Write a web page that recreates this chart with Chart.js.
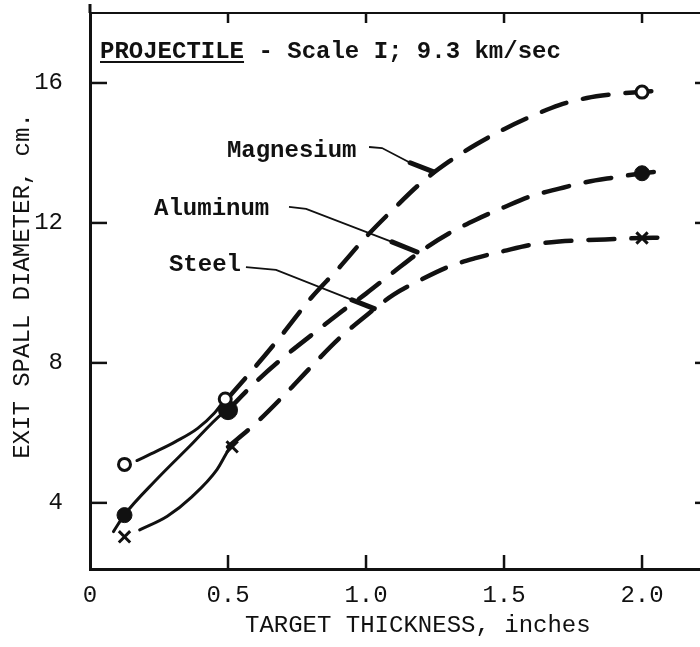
<!DOCTYPE html>
<html>
<head>
<meta charset="utf-8">
<script src="https://cdn.jsdelivr.net/npm/chart.js@4/dist/chart.umd.min.js"></script>
<style>
  html, body { margin: 0; padding: 0; background: #fff; }
  #chart { display: block; }
</style>
</head>
<body>
<canvas id="chart" width="700" height="647"></canvas>
<script>
// axis ticks
const xTicks = [0, 0.5, 1.0, 1.5, 2.0];
const xTickLabels = ['0', '0.5', '1.0', '1.5', '2.0'];
const yTicks = [4, 8, 12, 16];
const yTickLabels = ['4', '8', '12', '16'];

// measured points (target thickness, inches -> spall diameter, cm)
const magnesiumX = [0.125, 0.49, 2.0];
const magnesiumY = [5.1, 6.97, 15.74];
const aluminumX = [0.125, 0.5, 2.0];
const aluminumY = [3.65, 6.65, 13.42];
const steelX = [0.125, 0.515, 2.0];
const steelY = [3.03, 5.6, 11.57];

// solid curves at small thickness
const magnesiumSolidX = [0.17, 0.24, 0.31, 0.39, 0.45, 0.49];
const magnesiumSolidY = [5.21, 5.47, 5.75, 6.13, 6.56, 6.97];
const aluminumSolidX = [0.085, 0.125, 0.24, 0.36, 0.48, 0.5];
const aluminumSolidY = [3.18, 3.66, 4.66, 5.61, 6.56, 6.66];
const steelSolidX = [0.18, 0.28, 0.37, 0.46, 0.5];
const steelSolidY = [3.23, 3.62, 4.18, 4.95, 5.5];

// dashed fitted curves
const magnesiumDashX = [0.5, 0.6, 0.7, 0.8, 0.9, 1.0, 1.1, 1.2, 1.3, 1.4, 1.5, 1.6, 1.7, 1.8, 1.9, 2.0, 2.08];
const magnesiumDashY = [7.0, 7.9, 8.85, 9.85, 10.7, 11.6, 12.4, 13.15, 13.75, 14.25, 14.68, 15.05, 15.37, 15.57, 15.68, 15.75, 15.78];
const aluminumDashX = [0.5, 0.6, 0.7, 0.8, 0.9, 1.0, 1.1, 1.2, 1.3, 1.4, 1.5, 1.6, 1.7, 1.8, 1.9, 2.0, 2.07];
const aluminumDashY = [6.65, 7.45, 8.15, 8.78, 9.4, 9.98, 10.6, 11.2, 11.7, 12.1, 12.45, 12.77, 12.98, 13.17, 13.3, 13.42, 13.48];
const steelDashX = [0.5, 0.6, 0.7, 0.8, 0.9, 1.0, 1.1, 1.2, 1.3, 1.4, 1.5, 1.6, 1.7, 1.8, 1.9, 2.0, 2.06];
const steelDashY = [5.6, 6.27, 7.05, 7.88, 8.68, 9.35, 9.95, 10.38, 10.75, 11.0, 11.2, 11.38, 11.47, 11.51, 11.54, 11.57, 11.58];

// curve labels and their leader lines (data coordinates)
const curveNames = ['Magnesium', 'Aluminum', 'Steel'];
const curveLabelAt = [[0.496, 14.06], [0.232, 12.4], [0.286, 10.8]];
const leaders = [
    [[1.011, 14.17], [1.058, 14.14], [1.16, 13.72], [1.245, 13.46]],
    [[0.721, 12.46], [0.783, 12.4], [1.094, 11.46], [1.185, 11.17]],
    [[0.565, 10.74], [0.674, 10.66], [0.949, 9.8], [1.03, 9.55]]
];

const INK = '#111';
const MONO = '"Liberation Mono", "DejaVu Sans Mono", monospace';

function pts(xs, ys) {
    return xs.map((x, i) => ({ x: x, y: ys[i] }));
}

function curve(xs, ys, dashed) {
    return {
        data: pts(xs, ys),
        showLine: true,
        borderColor: INK,
        borderWidth: dashed ? 4.5 : 3,
        borderDash: dashed ? [26, 17] : [],
        borderCapStyle: 'round',
        cubicInterpolationMode: 'monotone',
        pointRadius: 0,
        order: 2
    };
}

// no extra padding around the plot for the tick labels
function noPad(s) {
    s.paddingTop = 0;
    s.paddingBottom = 0;
    s.paddingLeft = 0;
    s.paddingRight = 0;
}

// inward ticks, top stub, titles, labels
const inkPlugin = {
    id: 'ink',
    afterDraw(chart) {
        const ctx = chart.ctx;
        const a = chart.chartArea;
        const x = chart.scales.x;
        const y = chart.scales.y;
        const line = (x1, y1, x2, y2) => {
            ctx.beginPath();
            ctx.moveTo(x1, y1);
            ctx.lineTo(x2, y2);
            ctx.stroke();
        };
        ctx.save();
        ctx.strokeStyle = INK;
        ctx.fillStyle = INK;
        ctx.lineWidth = 2.5;
        xTicks.slice(1).forEach(v => {
            const px = x.getPixelForValue(v);
            line(px, a.bottom, px, a.bottom - 14);
            line(px, a.top, px, a.top + 10);
        });
        yTicks.forEach(v => {
            const py = y.getPixelForValue(v);
            line(a.left, py, a.left + 17, py);
            line(a.right, py, a.right - 5, py);
        });
        ctx.lineWidth = 3;
        line(a.left, a.top, a.left, a.top - 9);

        // axis titles
        ctx.font = '24px ' + MONO;
        ctx.textBaseline = 'middle';
        ctx.textAlign = 'left';
        ctx.fillText('TARGET THICKNESS, inches', a.left + 155, 626);
        ctx.save();
        ctx.translate(23, (a.top + a.bottom) / 2 - 5);
        ctx.rotate(-Math.PI / 2);
        ctx.textAlign = 'center';
        ctx.fillText('EXIT SPALL DIAMETER, cm.', 0, 0);
        ctx.restore();

        // header
        ctx.font = 'bold 24px ' + MONO;
        const head = 'PROJECTILE';
        const hx = a.left + 10;
        const hy = a.top + 39;
        ctx.fillText(head, hx, hy);
        const hw = ctx.measureText(head).width;
        ctx.lineWidth = 2;
        line(hx, hy + 10, hx + hw, hy + 10);
        ctx.fillText(' - Scale I; 9.3 km/sec', hx + hw, hy);

        // curve labels
        curveNames.forEach((name, i) => {
            ctx.fillText(name, x.getPixelForValue(curveLabelAt[i][0]), y.getPixelForValue(curveLabelAt[i][1]));
        });

        // leader lines with heavy tips
        leaders.forEach(ld => {
            const p = ld.map(q => [x.getPixelForValue(q[0]), y.getPixelForValue(q[1])]);
            ctx.lineWidth = 1.8;
            ctx.beginPath();
            ctx.moveTo(p[0][0], p[0][1]);
            for (let k = 1; k < p.length - 1; k++) ctx.lineTo(p[k][0], p[k][1]);
            ctx.stroke();
            ctx.lineWidth = 5;
            ctx.lineCap = 'round';
            line(p[p.length - 2][0], p[p.length - 2][1], p[p.length - 1][0], p[p.length - 1][1]);
            ctx.lineCap = 'butt';
        });
        ctx.restore();
    }
};

new Chart(document.getElementById('chart'), {
    type: 'scatter',
    data: {
        datasets: [
            {
                data: pts(magnesiumX, magnesiumY),
                pointStyle: 'circle', pointRadius: 6, pointBorderWidth: 3,
                pointBackgroundColor: '#fff', pointBorderColor: INK, order: 0
            },
            {
                data: pts(aluminumX, aluminumY),
                pointStyle: 'circle', pointRadius: [7.5, 9.5, 7.5], pointBorderWidth: 1,
                pointBackgroundColor: INK, pointBorderColor: INK, order: 1
            },
            {
                data: pts(steelX, steelY),
                pointStyle: 'crossRot', pointRadius: 8, pointBorderWidth: 3,
                pointBorderColor: INK, order: 1
            },
            curve(magnesiumSolidX, magnesiumSolidY, false),
            curve(aluminumSolidX, aluminumSolidY, false),
            curve(steelSolidX, steelSolidY, false),
            curve(magnesiumDashX, magnesiumDashY, true),
            curve(aluminumDashX, aluminumDashY, true),
            curve(steelDashX, steelDashY, true)
        ]
    },
    options: {
        responsive: false,
        animation: false,
        layout: { padding: 0, autoPadding: false },
        plugins: { legend: { display: false }, tooltip: { enabled: false } },
        scales: {
            x: {
                type: 'linear', position: 'bottom', min: 0, max: 2.21,
                afterBuildTicks: s => { s.ticks = xTicks.map(v => ({ value: v })); },
                afterFit: s => { s.height = 78; noPad(s); },
                ticks: {
                    autoSkip: false, maxRotation: 0, padding: 12, color: INK,
                    font: { family: MONO, size: 24 },
                    callback: (v, i) => xTickLabels[i]
                },
                grid: { drawOnChartArea: false, drawTicks: false },
                border: { display: true, color: INK, width: 3 }
            },
            xTop: {
                type: 'linear', position: 'top', min: 0, max: 2.21,
                afterFit: s => { s.height = 13; noPad(s); },
                ticks: { display: false },
                grid: { drawOnChartArea: false, drawTicks: false },
                border: { display: true, color: INK, width: 2 }
            },
            y: {
                type: 'linear', position: 'left', min: 2.11, max: 18,
                afterBuildTicks: s => { s.ticks = yTicks.map(v => ({ value: v })); },
                afterFit: s => { s.width = 90; noPad(s); },
                ticks: {
                    padding: 27, color: INK,
                    font: { family: MONO, size: 24 },
                    callback: (v, i) => yTickLabels[i]
                },
                grid: { drawOnChartArea: false, drawTicks: false },
                border: { display: true, color: INK, width: 3 }
            }
        }
    },
    plugins: [inkPlugin]
});
</script>
</body>
</html>
